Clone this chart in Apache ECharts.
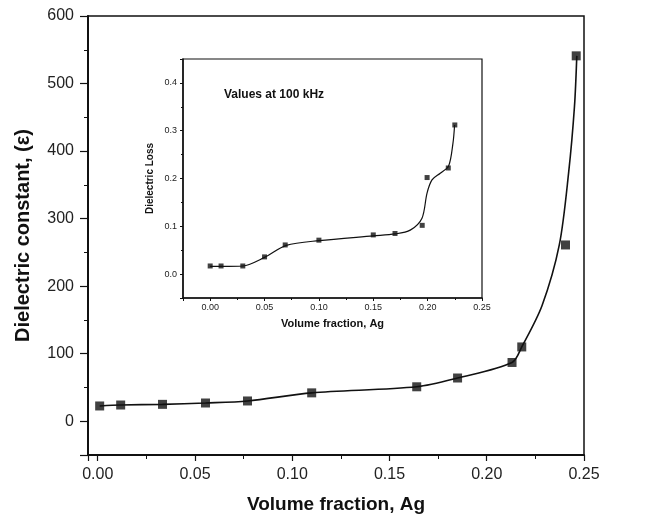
<!DOCTYPE html>
<html>
<head>
<meta charset="utf-8">
<title>Dielectric constant vs volume fraction Ag</title>
<script src="https://cdn.jsdelivr.net/npm/echarts@6/dist/echarts.min.js"></script>
<style>
  html, body { margin: 0; padding: 0; background: #fff; }
  #main { width: 650px; height: 521px; }
</style>
</head>
<body>
<div id="main"></div>
<script>
// main plot: measured points
var mainX = [0.001, 0.0118, 0.0333, 0.0554, 0.077, 0.110, 0.164, 0.185, 0.213, 0.218, 0.2405, 0.246];
var mainY = [22.6, 24, 25, 27, 30, 42, 51, 64, 87, 110, 261, 541];
// main plot: drawn fit curve
var mainCurveX = [0.001, 0.0118, 0.0333, 0.0554, 0.077, 0.110, 0.164, 0.185, 0.213, 0.218, 0.2284, 0.2373, 0.2421, 0.2451, 0.2463];
var mainCurveY = [22.6, 24, 25, 27, 30, 42, 51, 64, 87, 110, 171, 261, 368, 466, 541];

// inset: dielectric loss at 100 kHz
var insetX = [0, 0.01, 0.03, 0.05, 0.069, 0.10, 0.15, 0.17, 0.195, 0.1995, 0.219, 0.225];
var insetY = [0.017, 0.017, 0.017, 0.036, 0.061, 0.071, 0.082, 0.085, 0.102, 0.202, 0.222, 0.312];
var insetCurveX = [0, 0.01, 0.03, 0.05, 0.07, 0.10, 0.15, 0.17, 0.184, 0.1948, 0.1994, 0.204, 0.2116, 0.2193, 0.2233, 0.2248];
var insetCurveY = [0.016, 0.016, 0.017, 0.035, 0.06, 0.07, 0.08, 0.084, 0.092, 0.117, 0.169, 0.197, 0.211, 0.226, 0.274, 0.312];

function pairs(xs, ys) {
  return xs.map(function (x, i) { return [x, ys[i]]; });
}

var FONT = '"Liberation Sans", Arial, sans-serif';
var INK = '#111';

var chart = echarts.init(document.getElementById('main'));

chart.setOption({
  animation: false,
  title: {
    text: 'Values at 100 kHz',
    left: 219, top: 84,
    textStyle: { fontFamily: FONT, fontSize: 12, fontWeight: 'bold', color: INK }
  },
  grid: [
    { left: 88, top: 16, right: 66, bottom: 66, show: true, borderColor: INK, borderWidth: 1.5, backgroundColor: 'transparent' },
    { left: 183, top: 59, right: 168, bottom: 223, show: true, borderColor: INK, borderWidth: 1.2, backgroundColor: '#fff' }
  ],
  xAxis: [
    {
      gridIndex: 0, type: 'value', min: -0.005, max: 0.25,
      name: 'Volume fraction, Ag', nameLocation: 'middle', nameGap: 40,
      nameTextStyle: { fontFamily: FONT, fontSize: 19, fontWeight: 'bold', color: INK },
      axisLine: { onZero: false, lineStyle: { color: INK, width: 2 } },
      axisTick: { length: 6, lineStyle: { color: INK, width: 1.2 } },
      minorTick: { show: true, splitNumber: 2, length: 4, lineStyle: { color: INK, width: 1 } },
      splitLine: { show: false },
      axisLabel: {
        margin: 12, showMinLabel: false, fontFamily: FONT, fontSize: 16, color: '#222',
        formatter: function (v) { return v.toFixed(2); }
      }
    },
    {
      gridIndex: 1, type: 'value', min: -0.025, max: 0.25,
      name: 'Volume fraction, Ag', nameLocation: 'middle', nameGap: 20,
      nameTextStyle: { fontFamily: FONT, fontSize: 11, fontWeight: 'bold', color: INK },
      axisLine: { onZero: false, lineStyle: { color: INK, width: 1.5 } },
      axisTick: { length: 3, lineStyle: { color: INK, width: 1 } },
      minorTick: { show: true, splitNumber: 2, length: 2, lineStyle: { color: INK, width: 1 } },
      splitLine: { show: false },
      axisLabel: {
        margin: 5, showMinLabel: false, fontFamily: FONT, fontSize: 9, color: '#222',
        formatter: function (v) { return v.toFixed(2); }
      }
    }
  ],
  yAxis: [
    {
      gridIndex: 0, type: 'value', min: -50, max: 600,
      name: 'Dielectric constant, (\u03b5)', nameLocation: 'middle', nameGap: 55,
      nameTextStyle: { fontFamily: FONT, fontSize: 20, fontWeight: 'bold', color: INK },
      axisLine: { onZero: false, lineStyle: { color: INK, width: 2 } },
      axisTick: { length: 8, lineStyle: { color: INK, width: 1.2 } },
      minorTick: { show: true, splitNumber: 2, length: 4, lineStyle: { color: INK, width: 1 } },
      splitLine: { show: false },
      axisLabel: { margin: 14, showMinLabel: false, fontFamily: FONT, fontSize: 16, color: '#222' }
    },
    {
      gridIndex: 1, type: 'value', min: -0.05, max: 0.45,
      name: 'Dielectric Loss', nameLocation: 'middle', nameGap: 28,
      nameTextStyle: { fontFamily: FONT, fontSize: 10, fontWeight: 'bold', color: INK },
      axisLine: { onZero: false, lineStyle: { color: INK, width: 1.5 } },
      axisTick: { length: 3, lineStyle: { color: INK, width: 1 } },
      minorTick: { show: true, splitNumber: 2, length: 2, lineStyle: { color: INK, width: 1 } },
      splitLine: { show: false },
      axisLabel: {
        margin: 6, showMinLabel: false, showMaxLabel: false, fontFamily: FONT, fontSize: 9, color: '#222',
        formatter: function (v) { return v.toFixed(1); }
      }
    }
  ],
  series: [
    {
      type: 'line', xAxisIndex: 0, yAxisIndex: 0,
      data: pairs(mainCurveX, mainCurveY),
      smooth: 0.3, showSymbol: false,
      lineStyle: { color: INK, width: 1.6 }
    },
    {
      type: 'scatter', xAxisIndex: 0, yAxisIndex: 0,
      data: pairs(mainX, mainY),
      symbol: 'rect', symbolSize: 9,
      itemStyle: { color: INK }
    },
    {
      type: 'line', xAxisIndex: 1, yAxisIndex: 1,
      data: pairs(insetCurveX, insetCurveY),
      smooth: 0.3, showSymbol: false,
      lineStyle: { color: INK, width: 1.2 }
    },
    {
      type: 'scatter', xAxisIndex: 1, yAxisIndex: 1,
      data: pairs(insetX, insetY),
      symbol: 'rect', symbolSize: 5,
      itemStyle: { color: INK }
    }
  ]
});
</script>
</body>
</html>
